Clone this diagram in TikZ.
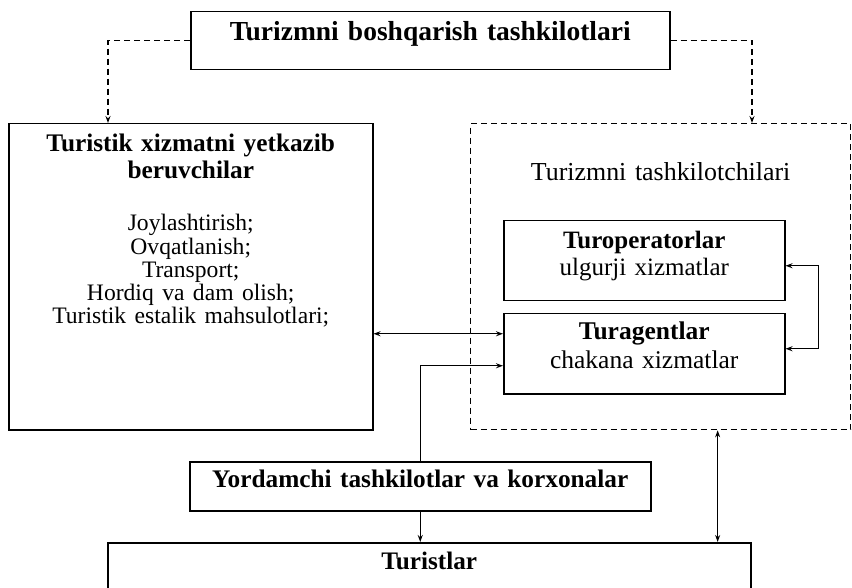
\documentclass[tikz,border=0pt]{standalone}
\usepackage{fontspec}
\setmainfont{Liberation Serif}
\usetikzlibrary{arrows.meta}

\begin{document}
\begin{tikzpicture}[x=1pt, y=-1pt,
    blok/.style={draw, line width=1.5pt, inner sep=0pt, align=center, anchor=north west},
    tblok/.style={blok, line width=1.3pt, dash pattern=on 6pt off 4pt},
    dline/.style={dash pattern=on 6pt off 4pt},
    ulag/.style={line width=1.2pt, -{Stealth[length=7pt,width=5pt]}},
    ikki/.style={line width=1.2pt, {Stealth[length=7pt,width=5pt]}-{Stealth[length=7pt,width=5pt]}}]
  \useasboundingbox (0,0) rectangle (852,588);
  \node[blok, text width=479pt, text height=29pt, text depth=29pt,
        font={\fontsize{27.5}{30}\selectfont\bfseries}] (boshq) at (190,11)
        {Turizmni boshqarish tashkilotlari};
  \node[blok, text width=364pt, text height=28pt, text depth=278pt,
        font={\fontsize{25.3}{27}\selectfont}] (tyet) at (8,123)
        {{\bfseries Turistik xizmatni yetkazib\\ beruvchilar\par}\vspace{28.7pt}
         {\fontsize{23.6}{23.3}\selectfont Joylashtirish;\\ Ovqatlanish;\\ Transport;\\
          Hordiq va dam olish;\\ Turistik estalik mahsulotlari;\par}};
  \node[tblok, text width=380pt, text height=57pt, text depth=249pt,
        font={\fontsize{25.9}{28}\selectfont}] (tashk) at (470,123)
        {Turizmni tashkilotchilari};
  \node[blok, text width=281pt, text height=28pt, text depth=52pt,
        font={\fontsize{25}{27}\selectfont}] (turop) at (503,220)
        {{\bfseries Turoperatorlar}\\ ulgurji xizmatlar};
  \node[blok, text width=281pt, text height=26pt, text depth=54pt,
        font={\fontsize{25.5}{29}\selectfont}] (turag) at (503,313)
        {{\bfseries Turagentlar}\\ chakana xizmatlar};
  \node[blok, text width=461pt, text height=26pt, text depth=23pt,
        font={\fontsize{25.3}{27}\selectfont\bfseries}] (yord) at (189,461)
        {Yordamchi tashkilotlar va korxonalar};
  \node[blok, text width=643pt, text height=27pt, text depth=23pt,
        font={\fontsize{25.2}{27}\selectfont\bfseries}] (tur) at (107,542)
        {Turistlar};

  \draw[dline, ulag] (boshq.west) -| ([xshift=100pt]tyet.north west);
  \draw[dline, ulag] (boshq.east) -| ([xshift=282pt]tashk.north west);
  \coordinate (kirA) at ([yshift=20pt]turag.west);
  \draw[ikki] (kirA -| tyet.east) -- (kirA);
  \draw[ulag] (yord.north) |- ([yshift=-12pt]turag.west);
  \draw[ikki] ([yshift=5pt]turag.east) -- ++(33,0) |- ([yshift=-5pt]turop.east);
  \draw[ulag] (yord.south) -- (yord.south |- tur.north);
  \draw[ikki] ([xshift=57pt]tashk.south) -- ([xshift=57pt]tashk.south |- tur.north);
\end{tikzpicture}
\end{document}
